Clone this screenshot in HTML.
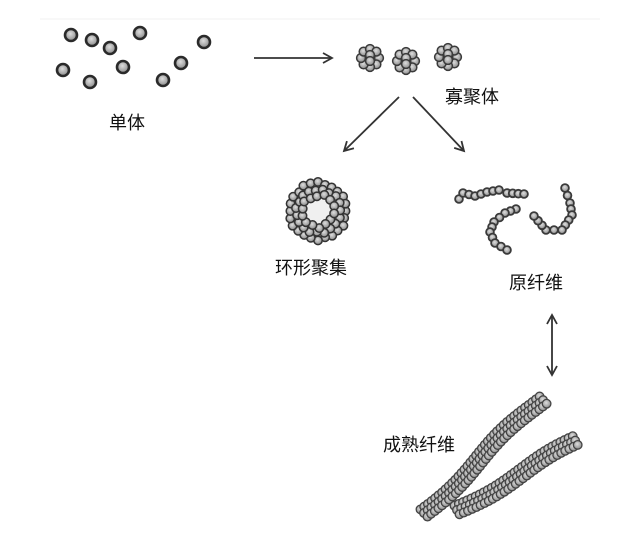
<!DOCTYPE html>
<html><head><meta charset="utf-8"><style>
html,body{margin:0;padding:0;background:#fff;}
svg{display:block}
text{font-family:"Liberation Sans","Noto Sans CJK SC",sans-serif;font-size:18px;fill:#111}
</style></head><body>
<svg id="s" width="640" height="543" viewBox="0 0 640 543" xmlns="http://www.w3.org/2000/svg">
<defs>
<radialGradient id="g" cx="45%" cy="40%" r="60%"><stop offset="0" stop-color="#dedede"/><stop offset="1" stop-color="#8a8a8a"/></radialGradient>
<marker id="ah" markerWidth="12" markerHeight="12" refX="10" refY="6" orient="auto" markerUnits="userSpaceOnUse"><path d="M1,1 L10,6 L1,11" fill="none" stroke="#333" stroke-width="1.8"/></marker>
<marker id="ah2" markerWidth="12" markerHeight="12" refX="10" refY="6" orient="auto-start-reverse" markerUnits="userSpaceOnUse"><path d="M1,1 L10,6 L1,11" fill="none" stroke="#333" stroke-width="1.8"/></marker>
</defs>
<line x1="40" y1="19" x2="600" y2="19" stroke="#f2f2f2" stroke-width="1"/>
<circle cx="318" cy="211" r="16" fill="#f0f0f0"/>
<g id="beads"></g>
<line x1="254" y1="58" x2="332" y2="58" stroke="#333" stroke-width="1.8" marker-end="url(#ah)"/>
<line x1="399" y1="97" x2="344" y2="151" stroke="#333" stroke-width="1.8" marker-end="url(#ah)"/>
<line x1="413" y1="97" x2="464" y2="151" stroke="#333" stroke-width="1.8" marker-end="url(#ah)"/>
<line x1="552" y1="315" x2="552" y2="375" stroke="#333" stroke-width="1.8" marker-start="url(#ah2)" marker-end="url(#ah2)"/>
<text x="109" y="129">单体</text>
<text x="445" y="103">寡聚体</text>
<text x="275" y="274">环形聚集</text>
<text x="509" y="289">原纤维</text>
<text x="383" y="451">成熟纤维</text>
</svg>
<script>
var G=document.getElementById('beads'),NS='http://www.w3.org/2000/svg';
function c(x,y,r,sw,st){var e=document.createElementNS(NS,'circle');e.setAttribute('cx',x.toFixed(1));e.setAttribute('cy',y.toFixed(1));e.setAttribute('r',r);e.setAttribute('fill','url(#g)');e.setAttribute('stroke',st||'#3a3a3a');e.setAttribute('stroke-width',sw||1.5);G.appendChild(e);}
[[71,35],[92,40],[110,48],[140,33],[204,42],[63,70],[90,82],[123,67],[163,80],[181,63]].forEach(function(p){c(p[0],p[1],6,2.6,'#2a2a2a');});
[[370,58],[406,61],[448,57]].forEach(function(p){
 for(var i=0;i<8;i++){var a=i*Math.PI/4;c(p[0]+9*Math.cos(a),p[1]+9*Math.sin(a),4.4,1.5);}
 c(p[0],p[1]-3,4.4,1.5);c(p[0],p[1]+3,4.4,1.5);});
var seed=3;function rnd(){seed=(seed*9301+49297)%233280;return seed/233280;}
for(var k=0;k<3;k++){var R=[28,22,16][k],n=[24,19,14][k];for(var i=0;i<n;i++){var a=i*2*Math.PI/n+k*0.3;var j=(rnd()-0.5)*3;c(318+(R+j)*Math.cos(a),211+(R+j)*Math.sin(a),4.2,1.5,'#333');}}
function chain(pts,step){for(var i=0;i<pts.length-1;i++){var a=pts[i],b=pts[i+1],d=Math.hypot(b[0]-a[0],b[1]-a[1]),n=Math.max(1,Math.round(d/step));for(var j=0;j<n;j++){var t=j/n;c(a[0]+(b[0]-a[0])*t,a[1]+(b[1]-a[1])*t,3.9,1.8);}}var L=pts[pts.length-1];c(L[0],L[1],3.9,1.8);}
chain([[459,199],[463,193],[475,196],[487,192],[499,190],[507,193],[524,194]],6.5);
chain([[516,209],[505,213],[494,222],[490,232],[495,243],[507,250]],6.5);
chain([[565,188],[570,203],[572,215],[562,230],[546,230],[534,216]],6.5);
function fib(x1,y1,x2,y2){var d=Math.hypot(x2-x1,y2-y1),nx=-(y2-y1)/d,ny=(x2-x1)/d,n=Math.round(d/4.5);
 for(var s=0;s<3;s++)for(var i=0;i<=n;i++){var t=i/n,ph=t*d/24,off=[-5,0,5][s]+3*Math.sin(ph);c(x1+(x2-x1)*t+nx*off,y1+(y2-y1)*t+ny*off,4.3,1.3,'#444');}}
fib(424,513,542,399);
fib(457,510,576,442);
</script>
</body></html>
